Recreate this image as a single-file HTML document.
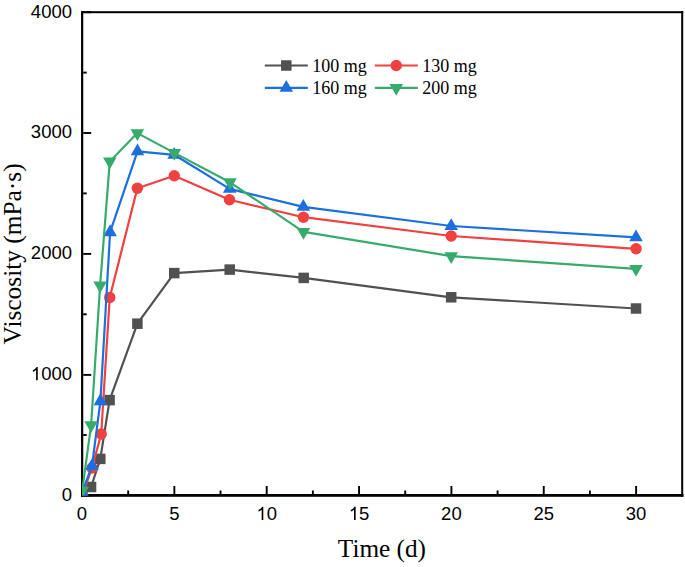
<!DOCTYPE html>
<html><head><meta charset="utf-8"><style>
html,body{margin:0;padding:0;background:#fff;}
body{width:685px;height:567px;overflow:hidden;}
svg{display:block;}
.tl{font-family:"Liberation Sans",sans-serif;font-size:18.5px;fill:#000;}
.lg{font-family:"Liberation Serif",serif;font-size:18px;fill:#000;}
.at{font-family:"Liberation Serif",serif;font-size:24.5px;fill:#000;}
</style></head><body>
<svg width="685" height="567" viewBox="0 0 685 567">
<defs><clipPath id="pa"><rect x="82.0" y="12.2" width="600" height="483.2"/></clipPath></defs>
<g fill="#000">
<rect x="81.05" y="11.2" width="602.15" height="2"/>
<rect x="81.05" y="11.2" width="2.2" height="485.6"/>
<rect x="681.2" y="11.2" width="2" height="485.6"/>
<rect x="81.05" y="494" width="602.4" height="2.8"/>
</g>
<g stroke="#000" stroke-width="1.9">
<path d="M82.00 494V486.00"/>
<path d="M128.18 494V490.50"/>
<path d="M174.35 494V486.00"/>
<path d="M220.52 494V490.50"/>
<path d="M266.70 494V486.00"/>
<path d="M312.88 494V490.50"/>
<path d="M359.05 494V486.00"/>
<path d="M405.22 494V490.50"/>
<path d="M451.40 494V486.00"/>
<path d="M497.57 494V490.50"/>
<path d="M543.75 494V486.00"/>
<path d="M589.92 494V490.50"/>
<path d="M636.10 494V486.00"/>
<path d="M83.2 495.40H91.20"/>
<path d="M83.2 435.00H86.70"/>
<path d="M83.2 374.90H91.20"/>
<path d="M83.2 314.30H86.70"/>
<path d="M83.2 253.90H91.20"/>
<path d="M83.2 193.40H86.70"/>
<path d="M83.2 133.00H91.20"/>
<path d="M83.2 72.60H86.70"/>
<path d="M83.2 12.20H91.20"/>
</g>
<g clip-path="url(#pa)">
<polyline points="82.20,495.40 91.05,487.00 100.30,458.90 109.60,400.10 137.40,323.70 174.25,273.10 229.70,269.60 303.70,277.90 451.20,297.30 636.05,308.50" fill="none" stroke="#515151" stroke-width="2.2" stroke-linejoin="round"/>
<rect x="76.95" y="490.15" width="10.5" height="10.5" fill="#515151"/>
<rect x="85.80" y="481.75" width="10.5" height="10.5" fill="#515151"/>
<rect x="95.05" y="453.65" width="10.5" height="10.5" fill="#515151"/>
<rect x="104.35" y="394.85" width="10.5" height="10.5" fill="#515151"/>
<rect x="132.15" y="318.45" width="10.5" height="10.5" fill="#515151"/>
<rect x="169.00" y="267.85" width="10.5" height="10.5" fill="#515151"/>
<rect x="224.45" y="264.35" width="10.5" height="10.5" fill="#515151"/>
<rect x="298.45" y="272.65" width="10.5" height="10.5" fill="#515151"/>
<rect x="445.95" y="292.05" width="10.5" height="10.5" fill="#515151"/>
<rect x="630.80" y="303.25" width="10.5" height="10.5" fill="#515151"/>
<polyline points="82.20,495.40 92.00,468.00 101.20,434.00 109.75,297.40 137.35,188.30 174.25,175.75 229.50,199.80 303.45,217.20 451.20,236.00 636.10,248.80" fill="none" stroke="#f0403f" stroke-width="2.2" stroke-linejoin="round"/>
<circle cx="82.20" cy="495.40" r="5.7" fill="#f0403f"/>
<circle cx="92.00" cy="468.00" r="5.7" fill="#f0403f"/>
<circle cx="101.20" cy="434.00" r="5.7" fill="#f0403f"/>
<circle cx="109.75" cy="297.40" r="5.7" fill="#f0403f"/>
<circle cx="137.35" cy="188.30" r="5.7" fill="#f0403f"/>
<circle cx="174.25" cy="175.75" r="5.7" fill="#f0403f"/>
<circle cx="229.50" cy="199.80" r="5.7" fill="#f0403f"/>
<circle cx="303.45" cy="217.20" r="5.7" fill="#f0403f"/>
<circle cx="451.20" cy="236.00" r="5.7" fill="#f0403f"/>
<circle cx="636.10" cy="248.80" r="5.7" fill="#f0403f"/>
<polyline points="82.20,492.00 92.00,466.00 100.40,401.20 110.10,232.20 137.50,151.40 174.15,154.80 229.70,188.90 303.35,206.90 451.20,226.00 636.00,237.35" fill="none" stroke="#1b6fde" stroke-width="2.2" stroke-linejoin="round"/>
<path d="M82.20 484.13L89.00 495.93L75.40 495.93Z" fill="#1b6fde"/>
<path d="M92.00 458.13L98.80 469.93L85.20 469.93Z" fill="#1b6fde"/>
<path d="M100.40 393.33L107.20 405.13L93.60 405.13Z" fill="#1b6fde"/>
<path d="M110.10 224.33L116.90 236.13L103.30 236.13Z" fill="#1b6fde"/>
<path d="M137.50 143.53L144.30 155.33L130.70 155.33Z" fill="#1b6fde"/>
<path d="M174.15 146.93L180.95 158.73L167.35 158.73Z" fill="#1b6fde"/>
<path d="M229.70 181.03L236.50 192.83L222.90 192.83Z" fill="#1b6fde"/>
<path d="M303.35 199.03L310.15 210.83L296.55 210.83Z" fill="#1b6fde"/>
<path d="M451.20 218.13L458.00 229.93L444.40 229.93Z" fill="#1b6fde"/>
<path d="M636.00 229.48L642.80 241.28L629.20 241.28Z" fill="#1b6fde"/>
<polyline points="82.20,490.60 91.10,425.20 100.10,285.50 109.80,161.40 137.35,133.10 174.35,152.90 229.95,182.30 303.50,231.90 451.20,256.10 636.00,268.90" fill="none" stroke="#37ab6b" stroke-width="2.2" stroke-linejoin="round"/>
<path d="M82.20 498.47L89.00 486.67L75.40 486.67Z" fill="#37ab6b"/>
<path d="M91.10 433.07L97.90 421.27L84.30 421.27Z" fill="#37ab6b"/>
<path d="M100.10 293.37L106.90 281.57L93.30 281.57Z" fill="#37ab6b"/>
<path d="M109.80 169.27L116.60 157.47L103.00 157.47Z" fill="#37ab6b"/>
<path d="M137.35 140.97L144.15 129.17L130.55 129.17Z" fill="#37ab6b"/>
<path d="M174.35 160.77L181.15 148.97L167.55 148.97Z" fill="#37ab6b"/>
<path d="M229.95 190.17L236.75 178.37L223.15 178.37Z" fill="#37ab6b"/>
<path d="M303.50 239.77L310.30 227.97L296.70 227.97Z" fill="#37ab6b"/>
<path d="M451.20 263.97L458.00 252.17L444.40 252.17Z" fill="#37ab6b"/>
<path d="M636.00 276.77L642.80 264.97L629.20 264.97Z" fill="#37ab6b"/>
</g>
<path d="M264.8 65.5H307.8" stroke="#515151" stroke-width="2.2"/>
<rect x="281.05" y="60.25" width="10.5" height="10.5" fill="#515151"/>
<text x="312.3" y="71.9" class="lg">100 mg</text>
<path d="M374.8 65.5H417.8" stroke="#f0403f" stroke-width="2.2"/>
<circle cx="396.30" cy="65.50" r="5.7" fill="#f0403f"/>
<text x="422.3" y="71.9" class="lg">130 mg</text>
<path d="M264.8 87.9H307.8" stroke="#1b6fde" stroke-width="2.2"/>
<path d="M286.30 80.03L293.10 91.83L279.50 91.83Z" fill="#1b6fde"/>
<text x="312.3" y="94.30000000000001" class="lg">160 mg</text>
<path d="M374.8 87.9H417.8" stroke="#37ab6b" stroke-width="2.2"/>
<path d="M396.30 95.77L403.10 83.97L389.50 83.97Z" fill="#37ab6b"/>
<text x="422.3" y="94.30000000000001" class="lg">200 mg</text>
<text x="61.71" y="500.80" class="tl">0</text>
<path transform="translate(30.84 380.30) scale(0.009033 -0.009033)" d="M763 0L583 0L583 1147Q518 1085 412 1023Q306 961 223 930L223 1104Q372 1174 484 1274Q596 1374 643 1468L763 1468Z"/><text x="41.13" y="380.30" class="tl">0</text><text x="51.42" y="380.30" class="tl">0</text><text x="61.71" y="380.30" class="tl">0</text>
<text x="30.84" y="259.30" class="tl">2</text><text x="41.13" y="259.30" class="tl">0</text><text x="51.42" y="259.30" class="tl">0</text><text x="61.71" y="259.30" class="tl">0</text>
<text x="30.84" y="138.40" class="tl">3</text><text x="41.13" y="138.40" class="tl">0</text><text x="51.42" y="138.40" class="tl">0</text><text x="61.71" y="138.40" class="tl">0</text>
<text x="30.84" y="17.60" class="tl">4</text><text x="41.13" y="17.60" class="tl">0</text><text x="51.42" y="17.60" class="tl">0</text><text x="61.71" y="17.60" class="tl">0</text>
<text x="76.86" y="520.00" class="tl">0</text>
<text x="169.21" y="520.00" class="tl">5</text>
<path transform="translate(256.41 520.00) scale(0.009033 -0.009033)" d="M763 0L583 0L583 1147Q518 1085 412 1023Q306 961 223 930L223 1104Q372 1174 484 1274Q596 1374 643 1468L763 1468Z"/><text x="266.70" y="520.00" class="tl">0</text>
<path transform="translate(348.76 520.00) scale(0.009033 -0.009033)" d="M763 0L583 0L583 1147Q518 1085 412 1023Q306 961 223 930L223 1104Q372 1174 484 1274Q596 1374 643 1468L763 1468Z"/><text x="359.05" y="520.00" class="tl">5</text>
<text x="441.11" y="520.00" class="tl">2</text><text x="451.40" y="520.00" class="tl">0</text>
<text x="533.46" y="520.00" class="tl">2</text><text x="543.75" y="520.00" class="tl">5</text>
<text x="625.81" y="520.00" class="tl">3</text><text x="636.10" y="520.00" class="tl">0</text>
<text transform="translate(381.95 557.1) scale(1.031 1)" class="at" text-anchor="middle">Time (d)</text>
<text transform="translate(20.7 253.9) rotate(-90) scale(1.036 1)" class="at" text-anchor="middle">Viscosity (mPa&#183;s)</text>
</svg>
</body></html>
